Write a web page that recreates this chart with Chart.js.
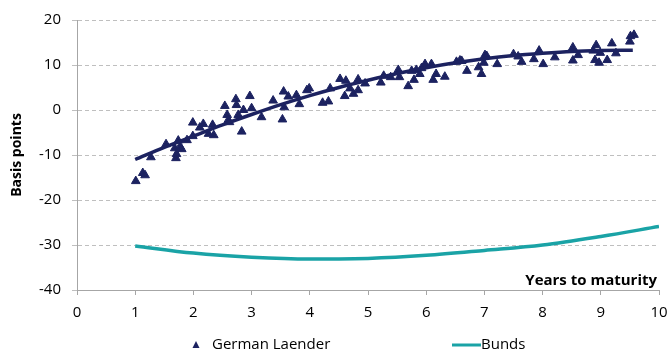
<!DOCTYPE html>
<html>
<head>
<meta charset="utf-8">
<script src="https://cdn.jsdelivr.net/npm/chart.js@4/dist/chart.umd.min.js"></script>
<style>
  html, body { margin: 0; padding: 0; background: #fff; }
  #wrap { width: 670px; height: 360px; }
</style>
</head>
<body>
<div id="wrap"><canvas id="chart" width="670" height="360"></canvas></div>
<script>
// Spread of German Laender bonds (bp) by years to maturity
const laenderYears = [
  1.01, 1.13, 1.17, 1.27, 1.53, 1.68, 1.70, 1.71, 1.74, 1.77, 1.80, 1.89, 1.99, 1.99,
  2.11, 2.17, 2.26, 2.33, 2.35, 2.54, 2.58, 2.60, 2.62, 2.73, 2.74, 2.77, 2.83, 2.86,
  2.97, 3.00, 3.17, 3.37, 3.53, 3.55, 3.56, 3.63, 3.77, 3.82, 3.95, 3.99, 4.22, 4.32,
  4.35, 4.52, 4.60, 4.62, 4.69, 4.75, 4.83, 4.83, 4.95, 5.22, 5.27, 5.39, 5.52, 5.54,
  5.69, 5.75, 5.79, 5.83, 5.89, 5.92, 5.98, 6.09, 6.12, 6.17, 6.32, 6.52, 6.58, 6.61,
  6.70, 6.90, 6.95, 6.99, 7.01, 7.04, 7.22, 7.50, 7.58, 7.64, 7.85, 7.94, 8.01, 8.21,
  8.52, 8.52, 8.61, 8.87, 8.92, 8.90, 8.97, 8.99, 9.11, 9.19, 9.26, 9.50, 9.51, 9.57
];
const laenderSpread = [
  -15.8, -14.0, -14.5, -10.5, -7.6, -8.5, -10.7, -9.8, -6.8, -8.1, -8.7, -6.7, -5.8, -2.8,
  -3.9, -3.1, -5.3, -3.3, -5.6, 0.9, -1.1, -2.2, -2.7, 2.4, 1.1, -1.1, -4.8, 0.0,
  3.1, 0.4, -1.6, 2.1, -2.1, 4.1, 0.6, 3.0, 3.3, 1.3, 4.4, 4.8, 1.6, 1.9,
  4.8, 6.9, 3.1, 6.5, 4.8, 3.6, 6.8, 4.4, 5.9, 6.1, 7.6, 7.3, 8.9, 7.3,
  5.3, 8.7, 6.7, 8.9, 8.0, 9.3, 10.2, 10.2, 6.7, 8.0, 7.4, 10.7, 11.0, 10.9,
  8.7, 9.5, 8.0, 10.5, 12.2, 12.0, 10.2, 12.4, 11.9, 10.7, 11.3, 13.2, 10.2, 11.7,
  13.9, 11.0, 12.2, 13.2, 14.4, 11.1, 10.5, 12.7, 11.1, 14.8, 12.6, 15.2, 16.4, 16.7
];

// Trend line through the Laender spreads
const trendYears  = [1, 1.5, 2, 2.5, 3, 3.5, 4, 4.5, 5, 5.5, 6, 6.5, 7, 7.5, 8, 8.5, 9, 9.55];
const trendSpread = [-11.0, -8.3, -5.8, -3.3, -1.0, 1.2, 3.2, 5.0, 6.6, 8.1, 9.4, 10.5, 11.4, 12.1, 12.6, 13.0, 13.2, 13.3];

// Bunds curve
const bundYears  = [1, 2, 3, 4, 4.5, 5, 6, 7, 8, 9, 10];
const bundSpread = [-30.2, -31.8, -32.7, -33.1, -33.1, -33.0, -32.3, -31.2, -30.0, -28.1, -25.9];

const NAVY = '#1c2260';
const TEAL = '#1aa3a6';
const GRID = '#bfbfbf';
const AXIS = '#a6a6a6';
const FONT = '"Open Sans", Lato, sans-serif';

const toPoints = (xs, ys) => xs.map((x, i) => ({ x, y: ys[i] }));

// Legend underneath the plot and the x-axis caption inside the plot area
const annotations = {
  id: 'annotations',
  afterDraw(chart) {
    const { ctx, chartArea } = chart;
    ctx.save();
    ctx.fillStyle = '#000';
    ctx.font = 'bold 15px ' + FONT;
    ctx.textAlign = 'right';
    ctx.textBaseline = 'bottom';
    ctx.fillText('Years to maturity', chartArea.right - 2, chartArea.bottom - 2);

    const ly = 345;
    const laender = chart.data.datasets[0];
    const bunds = chart.data.datasets[2];
    // triangle marker
    ctx.fillStyle = NAVY;
    ctx.beginPath();
    ctx.moveTo(196, ly - 4);
    ctx.lineTo(199.5, ly + 3);
    ctx.lineTo(192.5, ly + 3);
    ctx.closePath();
    ctx.fill();
    ctx.fillStyle = '#000';
    ctx.font = '15px ' + FONT;
    ctx.textAlign = 'left';
    ctx.textBaseline = 'middle';
    ctx.fillText(laender.label, 212, ly);
    // line marker
    ctx.strokeStyle = TEAL;
    ctx.lineWidth = 3;
    ctx.beginPath();
    ctx.moveTo(452, ly);
    ctx.lineTo(481, ly);
    ctx.stroke();
    ctx.fillText(bunds.label, 481, ly);
    ctx.restore();
  }
};

new Chart(document.getElementById('chart'), {
  type: 'scatter',
  data: {
    datasets: [
      {
        label: 'German Laender',
        data: toPoints(laenderYears, laenderSpread),
        pointStyle: 'triangle',
        pointRadius: 5,
        backgroundColor: NAVY,
        borderColor: NAVY,
        borderWidth: 1,
        showLine: false,
        order: 2
      },
      {
        label: 'Trend',
        type: 'line',
        data: toPoints(trendYears, trendSpread),
        borderColor: NAVY,
        borderWidth: 3.5,
        pointRadius: 0,
        cubicInterpolationMode: 'monotone',
        fill: false,
        order: 1
      },
      {
        label: 'Bunds',
        type: 'line',
        data: toPoints(bundYears, bundSpread),
        borderColor: TEAL,
        borderWidth: 3.5,
        pointRadius: 0,
        cubicInterpolationMode: 'monotone',
        fill: false,
        order: 0
      }
    ]
  },
  options: {
    responsive: false,
    animation: false,
    layout: { padding: { top: 20, right: 11, bottom: 0, left: 0 } },
    plugins: {
      legend: { display: false },
      tooltip: { enabled: false }
    },
    scales: {
      x: {
        type: 'linear',
        min: 0,
        max: 10,
        afterFit(scale) {
          scale.height = 70;
          scale.paddingLeft = 0;
          scale.paddingRight = 0;
        },
        ticks: { stepSize: 1, color: '#000', font: { family: FONT, size: 15 }, padding: 9 },
        grid: { drawOnChartArea: false, drawTicks: true, tickLength: 5, color: AXIS },
        border: { color: AXIS, width: 1 }
      },
      y: {
        min: -40,
        max: 20,
        afterFit(scale) { scale.width = 77; },
        ticks: { stepSize: 10, color: '#000', font: { family: FONT, size: 15 }, padding: 11 },
        grid: { color: GRID, tickLength: 5 },
        border: { color: AXIS, width: 1, dash: [4, 3] },
        title: {
          display: true,
          text: 'Basis points',
          color: '#000',
          font: { family: FONT, size: 14, weight: 'bold' },
          padding: { top: 9, bottom: 0 }
        }
      }
    }
  },
  plugins: [annotations]
});
</script>
</body>
</html>
